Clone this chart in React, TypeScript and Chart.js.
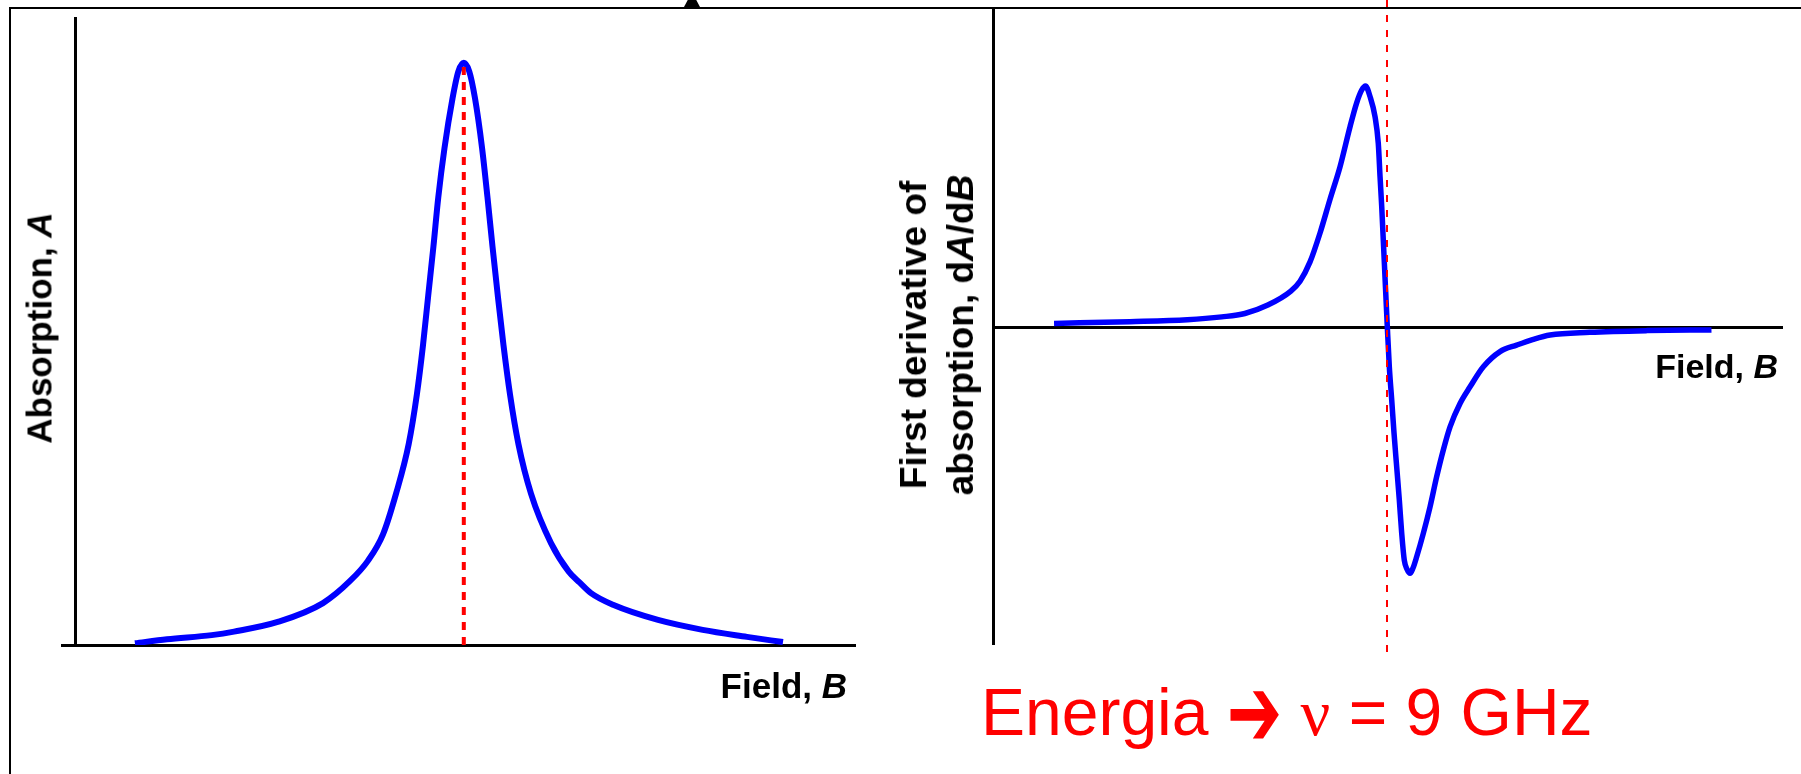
import React, { useEffect, useRef } from "react";
import { Chart, registerables } from "chart.js";
Chart.register(...registerables);

// ---- Absorption spectrum (field in mT, normalised absorption) ----
const absField = [293.89, 297.9, 303.48, 306.28, 311.85, 317.4, 320.78, 323.03, 324.9, 326.53, 328.11, 329.13, 329.9, 330.55, 331.2, 331.81, 332.59, 333.59, 334.31, 335.0, 335.69, 336.4, 337.28, 337.96, 338.59, 339.25, 339.96, 340.78, 341.83, 343.4, 345.9, 348.12, 349.5, 350.9, 353.65, 359.28, 364.86, 370.4, 374.9];
const absValue = [0.003, 0.010, 0.017, 0.023, 0.040, 0.072, 0.110, 0.145, 0.190, 0.260, 0.345, 0.430, 0.515, 0.600, 0.684, 0.769, 0.854, 0.939, 0.985, 1.000, 0.985, 0.939, 0.854, 0.769, 0.684, 0.600, 0.515, 0.430, 0.345, 0.260, 0.175, 0.126, 0.107, 0.089, 0.069, 0.043, 0.026, 0.014, 0.005];

// ---- First derivative spectrum ----
const derField = [293.38, 302.86, 310.05, 314.35, 317.23, 320.1, 322.98, 324.13, 325.38, 326.63, 327.88, 329.13, 330.38, 331.21, 331.84, 332.31, 332.88, 333.5, 333.91, 334.13, 334.34, 334.69, 335.04, 335.29, 335.59, 335.88, 336.21, 336.54, 336.84, 337.16, 337.5, 337.88, 338.25, 338.71, 339.54, 340.38, 341.21, 342.04, 342.88, 344.13, 345.38, 347.04, 349.13, 351.21, 353.29, 355.38, 360.34, 367.51, 375.56];
const derValue = [0.015, 0.022, 0.030, 0.042, 0.056, 0.091, 0.149, 0.190, 0.270, 0.390, 0.530, 0.665, 0.831, 0.930, 0.983, 1.000, 0.956, 0.873, 0.762, 0.624, 0.499, 0.250, 0.0, -0.165, -0.303, -0.441, -0.580, -0.718, -0.856, -0.967, -1.005, -1.022, -1.000, -0.953, -0.856, -0.746, -0.621, -0.510, -0.414, -0.317, -0.248, -0.165, -0.102, -0.075, -0.051, -0.033, -0.022, -0.015, -0.012];

// resonance field and the extents of the red markers
const resonanceField = 335.0;
const absMarkerRange = [0, 1.0];
const derMarkerRange = [1.357, -1.369];

// axis ranges
const absXRange = [284.775, 383.9];
const absYRange = [0, 1.077];
const absYAxisAt = 286.4;
const derXRange = [285.75, 384.375];
const derYRange = [-1.315, 1.315];

// texts
const absYLabel = "Absorption, ";
const absYLabelVar = "A";
const fieldLabel = "Field, ";
const fieldVar = "B";
const derYLabelLine1 = "First derivative of";
const derYLabelLine2a = "absorption, d";
const derYLabelVarA = "A";
const derYLabelMid = "/d";
const derYLabelVarB = "B";
const energyText = ["Energia ", "➔", " ", "ν", " = 9 GHz"];

const BLUE = "#0000ff";
const RED = "#ff0000";
const FONT = '"Liberation Sans", Arial, Helvetica, sans-serif';

const zip = (xs: number[], ys: number[]) => xs.map((x, i) => ({ x, y: ys[i] }));

const axisStyle = {
  grid: { display: false, drawTicks: false },
  ticks: { display: false },
  border: { display: true, color: "#000", width: 3 },
};

export default function App() {
  const leftRef = useRef<HTMLCanvasElement>(null);
  const rightRef = useRef<HTMLCanvasElement>(null);

  useEffect(() => {
    const left = new Chart(leftRef.current!, {
      type: "scatter",
      data: {
        datasets: [
          {
            data: [
              { x: resonanceField, y: absMarkerRange[0] },
              { x: resonanceField, y: absMarkerRange[1] },
            ],
            showLine: true,
            borderColor: RED,
            borderWidth: 4,
            borderDash: [8, 7],
            pointRadius: 0,
            order: 0,
          },
          {
            data: zip(absField, absValue),
            showLine: true,
            borderColor: BLUE,
            borderWidth: 6,
            pointRadius: 0,
            cubicInterpolationMode: "monotone",
            order: 1,
          },
        ],
      },
      options: {
        animation: false,
        responsive: false,
        events: [],
        layout: { padding: { left: 62, right: 45, top: 18, bottom: 129 } },
        plugins: { legend: { display: false }, tooltip: { enabled: false } },
        scales: {
          x: { type: "linear", min: absXRange[0], max: absXRange[1], position: "bottom", ...axisStyle },
          y: { type: "linear", min: absYRange[0], max: absYRange[1], position: { x: absYAxisAt }, ...axisStyle },
        },
      } as any,
    });

    const right = new Chart(rightRef.current!, {
      type: "scatter",
      data: {
        datasets: [
          {
            data: [
              { x: resonanceField, y: derMarkerRange[0] },
              { x: resonanceField, y: derMarkerRange[1] },
            ],
            showLine: true,
            borderColor: RED,
            borderWidth: 2,
            borderDash: [7, 8],
            pointRadius: 0,
            clip: false,
            order: 0,
          },
          {
            data: zip(derField, derValue),
            showLine: true,
            borderColor: BLUE,
            borderWidth: 5.5,
            pointRadius: 0,
            cubicInterpolationMode: "monotone",
            order: 1,
          },
        ],
      },
      options: {
        animation: false,
        responsive: false,
        events: [],
        layout: { padding: { left: 93, right: 19, top: 10, bottom: 130 } },
        plugins: { legend: { display: false }, tooltip: { enabled: false } },
        scales: {
          x: { type: "linear", min: derXRange[0], max: derXRange[1], position: { y: 0 }, ...axisStyle },
          y: { type: "linear", min: derYRange[0], max: derYRange[1], position: "left", ...axisStyle },
        },
      } as any,
    });

    return () => {
      left.destroy();
      right.destroy();
    };
  }, []);

  const bold: React.CSSProperties = { fontFamily: FONT, fontWeight: "bold", color: "#000", whiteSpace: "nowrap", lineHeight: 1 };

  return (
    <div style={{ position: "fixed", left: 0, top: 0, width: 1801, height: 774, background: "#fff", overflow: "hidden" }}>
      {/* slide frame */}
      <div style={{ position: "absolute", left: 9, top: 7, width: 1792, height: 2, background: "#000" }} />
      <div style={{ position: "absolute", left: 9, top: 7, width: 2, height: 767, background: "#000" }} />
      <div style={{ position: "absolute", left: 684, top: -8, width: 0, height: 0, borderLeft: "8px solid transparent", borderRight: "8px solid transparent", borderBottom: "15px solid #000" }} />

      <canvas ref={leftRef} width={900} height={774} style={{ position: "absolute", left: 0, top: 0, width: 900, height: 774 }} />
      <canvas ref={rightRef} width={901} height={774} style={{ position: "absolute", left: 900, top: 0, width: 901, height: 774 }} />

      {/* left labels */}
      <div style={{ ...bold, position: "absolute", left: 39, top: 328, fontSize: 35, transform: "translate(-50%, -50%) rotate(-90deg)" }}>
        {absYLabel}<i>{absYLabelVar}</i>
      </div>
      <div style={{ ...bold, position: "absolute", right: 1801 - 847, top: 668.4, fontSize: 35 }}>
        {fieldLabel}<i>{fieldVar}</i>
      </div>

      {/* right labels */}
      <div style={{ ...bold, position: "absolute", left: 937, top: 335, fontSize: 37, lineHeight: "47px", textAlign: "center", transform: "translate(-50%, -50%) rotate(-90deg)" }}>
        {derYLabelLine1}
        <br />
        {derYLabelLine2a}<i>{derYLabelVarA}</i>{derYLabelMid}<i>{derYLabelVarB}</i>
      </div>
      <div style={{ ...bold, position: "absolute", right: 1801 - 1778, top: 349.4, fontSize: 34 }}>
        {fieldLabel}<i>{fieldVar}</i>
      </div>

      {/* energy statement */}
      <div style={{ position: "absolute", left: 981, top: 679, fontFamily: FONT, fontSize: 66, lineHeight: 1, color: RED, whiteSpace: "nowrap" }}>
        {energyText[0]}
        <span style={{ display: "inline-block", fontFamily: '"DejaVu Sans", sans-serif', transform: "scaleY(1.5)" }}>{energyText[1]}</span>
        {energyText[2]}
        <span style={{ fontFamily: '"Liberation Serif", serif' }}>{energyText[3]}</span>
        {energyText[4]}
      </div>
    </div>
  );
}
